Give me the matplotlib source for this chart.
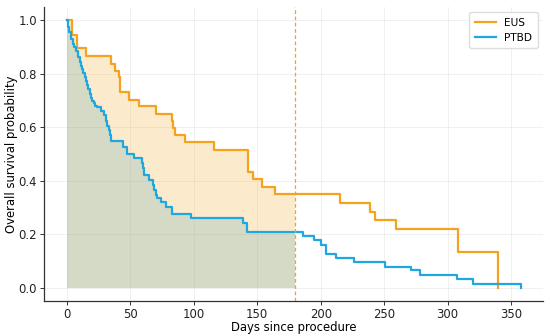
import numpy as np
import matplotlib
matplotlib.use("Agg")
import matplotlib.pyplot as plt

# Kaplan-Meier step values (time in days, survival)
eus_t = [0, 4, 8, 15, 35, 38, 41, 42, 49, 57, 70, 83, 84, 85, 93, 116,
         143, 147, 154, 164, 215, 239, 243, 259, 308, 340]
eus_s = [1.0, 0.947, 0.895, 0.866, 0.837, 0.812, 0.787, 0.731, 0.703, 0.679,
         0.650, 0.623, 0.597, 0.571, 0.544, 0.515, 0.434, 0.405, 0.377, 0.349,
         0.317, 0.283, 0.255, 0.221, 0.134, 0.0]

ptbd_t = [0, 1, 2, 3, 5, 6, 7, 9, 10, 11, 12, 13, 14, 15, 16, 17, 18, 19,
          20, 21, 22, 24, 27, 29, 31, 32, 33, 34, 35, 44, 47, 53, 59, 60,
          61, 65, 68, 69, 70, 71, 74, 78, 83, 98, 139, 142, 186, 195, 200,
          204, 212, 226, 251, 271, 278, 307, 320, 358]
ptbd_s = [1.0, 0.975, 0.955, 0.93, 0.91, 0.90, 0.885, 0.865, 0.845, 0.83,
          0.82, 0.805, 0.79, 0.775, 0.76, 0.745, 0.725, 0.71, 0.70, 0.69,
          0.68, 0.675, 0.66, 0.645, 0.625, 0.605, 0.59, 0.57, 0.55, 0.527,
          0.502, 0.484, 0.465, 0.446, 0.421, 0.402, 0.385, 0.365, 0.345,
          0.334, 0.321, 0.302, 0.277, 0.259, 0.242, 0.208, 0.194, 0.177,
          0.159, 0.127, 0.111, 0.096, 0.077, 0.065, 0.046, 0.031, 0.015, 0.0]

cutoff = 180
labels = ["EUS", "PTBD"]
c_eus = "#F5A31E"
c_ptbd = "#1FA8DF"

plt.rcParams["font.family"] = "DejaVu Sans"
plt.rcParams["font.size"] = 8.4

fig = plt.figure(figsize=(5.5, 3.36), dpi=100)
ax = fig.add_axes([0.08, 0.104, 0.907, 0.875])


def clip(t, s, limit):
    t = np.asarray(t, float)
    s = np.asarray(s, float)
    keep = t < limit
    idx = np.searchsorted(t, limit, side="right") - 1
    return np.append(t[keep], limit), np.append(s[keep], s[idx])


ft, fs = clip(eus_t, eus_s, cutoff)
ax.fill_between(ft, fs, 0, step="post", color=c_eus, alpha=0.22, lw=0)
ft, fs = clip(ptbd_t, ptbd_s, cutoff)
ax.fill_between(ft, fs, 0, step="post", color="#3a9db0", alpha=0.2, lw=0)

ax.step(eus_t, eus_s, where="post", color=c_eus, lw=1.6, label=labels[0])
ax.step(ptbd_t, ptbd_s, where="post", color=c_ptbd, lw=1.6, label=labels[1])
ax.axvline(cutoff, color=c_eus, lw=0.9, ls=(0, (3, 2)))

ax.set_xlim(-18, 375)
ax.set_ylim(-0.05, 1.05)
ax.set_xticks(np.arange(0, 351, 50))
ax.set_yticks(np.arange(0, 1.01, 0.2))
ax.grid(True, color="#e6e6e6", lw=0.6, alpha=0.7)
ax.set_axisbelow(True)
for side in ["top", "right"]:
    ax.spines[side].set_visible(False)
for side in ["left", "bottom"]:
    ax.spines[side].set_color("#333333")
    ax.spines[side].set_linewidth(0.9)
ax.tick_params(length=3, width=0.7, pad=2, color="#333333",
               labelcolor="#222222")

ax.set_xlabel("Days since procedure", labelpad=0)
ax.set_ylabel("Overall survival probability", labelpad=0)
ax.legend(loc="upper right", fontsize=7.6, frameon=True, framealpha=1,
          edgecolor="#dddddd", handlelength=2.0, borderpad=0.5)

fig.savefig("out.png", dpi=100)
